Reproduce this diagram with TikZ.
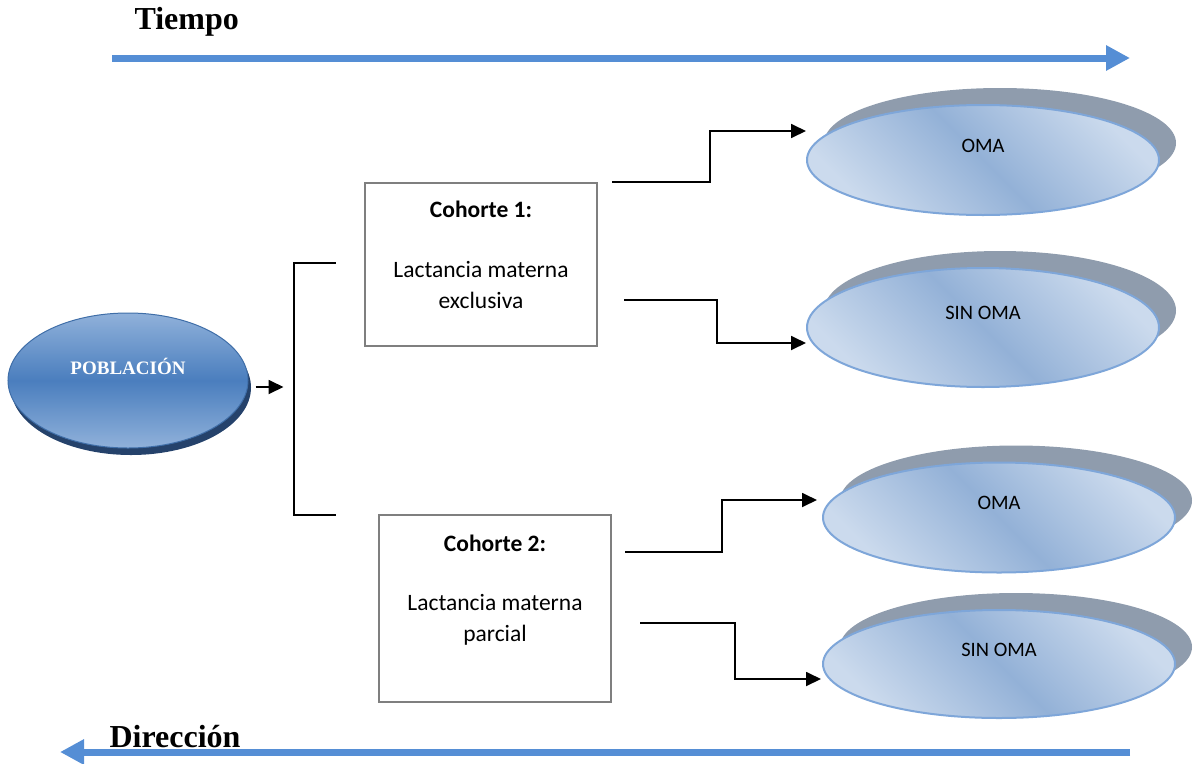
\documentclass[tikz,border=0pt]{standalone}
\usepackage{fontspec}
\setmainfont{Carlito}
\newfontfamily\timesfont{Liberation Serif}
\usepackage{tikz}
\usetikzlibrary{shapes.geometric, arrows.meta, positioning, calc, shadows}
\definecolor{arrowblue}{HTML}{558ED5}
\definecolor{popdark}{HTML}{4A7EBE}
\definecolor{poplight}{HTML}{90B1DA}
\definecolor{popborder}{HTML}{3F6EA8}
\definecolor{popshadow}{HTML}{25426B}
\definecolor{outlight}{HTML}{CBDAED}
\definecolor{outmid}{HTML}{93B1D7}
\definecolor{outborder}{HTML}{7EA6D9}
\definecolor{outshadow}{HTML}{8F9CAD}
\definecolor{boxgray}{HTML}{7F7F7F}

\begin{document}
\begin{tikzpicture}[
    x=1pt, y=-1pt,
    cohort/.style={rectangle, draw=boxgray, line width=2.5pt, minimum width=232pt, minimum height=163pt},
    cohorttext/.style={align=center, inner sep=0pt, font=\fontsize{23.5}{31}\selectfont},
    population/.style={ellipse, draw=popborder, line width=1pt, minimum width=240pt, minimum height=135pt, inner sep=0pt,
        top color=poplight, bottom color=poplight, middle color=popdark, text=white,
        font=\timesfont\bfseries\fontsize{19}{22}\selectfont, text height=14pt, text depth=26pt,
        drop shadow={shadow xshift=3pt, shadow yshift=-7pt, fill=popshadow, opacity=1}},
    result/.style={ellipse, draw=outborder, line width=2pt, minimum width=352pt, minimum height=110pt, inner sep=0pt,
        top color=outlight, bottom color=outlight, middle color=outmid, shading angle=-45,
        font=\fontsize{20.5}{24}\selectfont, text height=14pt, text depth=30pt,
        drop shadow={shadow xshift=17pt, shadow yshift=17pt, fill=outshadow, opacity=1}},
    timearrow/.style={draw=arrowblue, line width=7pt, -{Triangle[length=24pt, width=24pt]}},
    arrow/.style={-{Triangle[length=15pt, width=14pt]}, line width=1.8pt},
    title/.style={anchor=base west, font=\timesfont\bfseries\fontsize{32}{32}\selectfont}
]
\useasboundingbox (0,0) rectangle (1193,763);

% time and direction
\coordinate (t0) at (112,58);
\coordinate (t1) at (1130,58);
\coordinate (d0) at (1130,752);
\coordinate (d1) at (60,752);
\draw[timearrow] (t0) -- (t1);
\draw[timearrow] (d0) -- (d1);
\node[title] (tiempo) at (131,29) {Tiempo};
\node[title] (direccion) at (106,747) {Dirección};

% population and cohorts
\node[population] (pob) at (128,380.5) {POBLACIÓN};

\node[cohort] (c1) at (481,264.5) {};
\node[cohort, minimum height=187pt] (c2) at (495,608.5) {};
\node[cohorttext, below=19pt of c1.north] (c1t) {\textbf{Cohorte 1:}\\[29pt]Lactancia materna\\exclusiva};
\node[cohorttext, below=21pt of c2.north] (c2t) {\textbf{Cohorte 2:}\\[28pt]Lactancia materna\\parcial};

% outcomes
\node[result] (o1) at (983,160) {OMA};
\node[result, minimum height=119pt] (s1) at (983,327.5) {SIN OMA};
\node[result] (o2) at (999,517.5) {OMA};
\node[result, minimum height=108pt] (s2) at (999,664) {SIN OMA};

\draw[arrow] ($(pob.east)+(7,6.5)$) -- ++(28,0);
\draw[line width=1.8pt] ($(c1.west)+(-28,-1.5)$) -- ++(-42,0) |- ($(c2.north west)+(-42,1)$);

\draw[arrow] ($(c1.north east)+(14,0)$) -- ++(98,0) |- ($(o1.west)+(0,-29)$);
\draw[arrow] ($(c1.east)+(26,35.5)$) -- ++(93,0) |- ($(s1.west)+(0,15.5)$);
\draw[arrow] ($(c2.north east)+(13,38)$) -- ++(97,0) |- ($(o2.west)+(-5,-17.5)$);
\draw[arrow] ($(c2.east)+(28,14.5)$) -- ++(95,0) |- ($(s2.west)+(-1,15)$);

\end{tikzpicture}
\end{document}
